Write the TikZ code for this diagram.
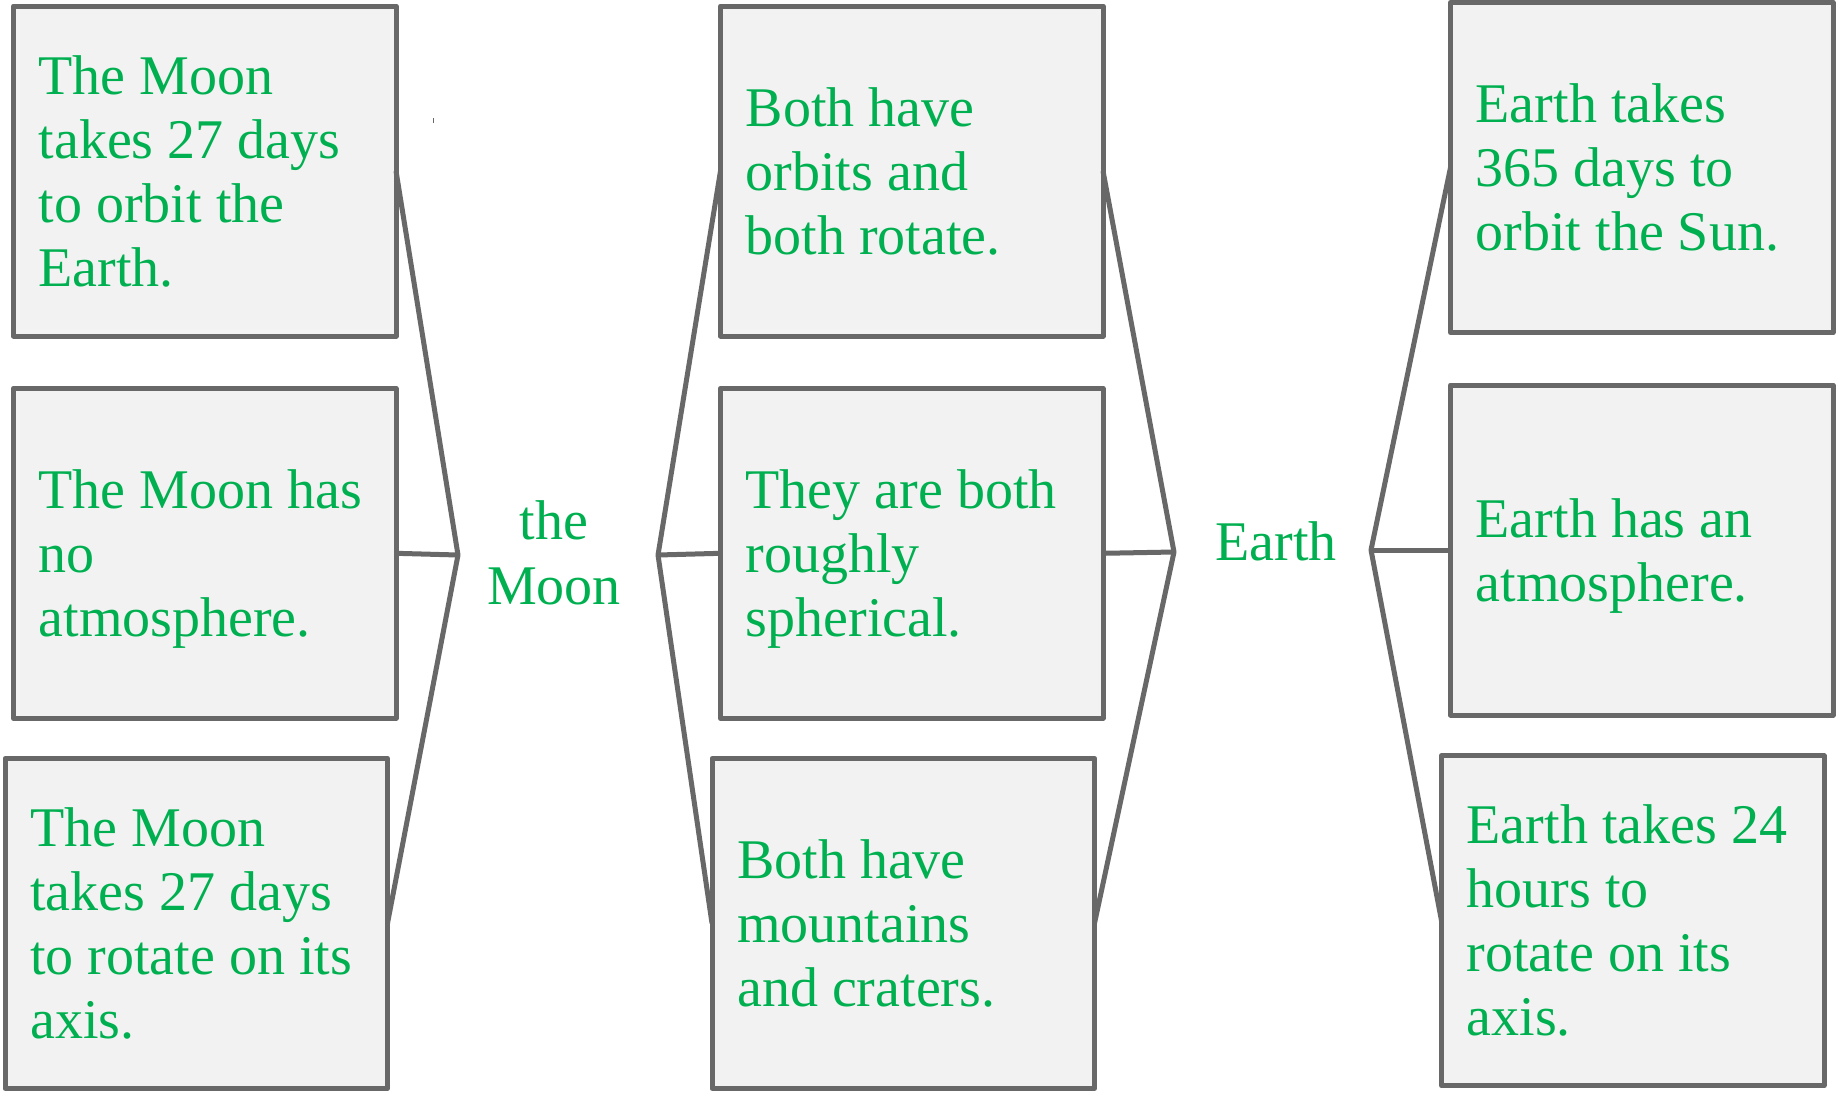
\documentclass[tikz,border=0pt]{standalone}
\usepackage{fontspec}
\setmainfont{Liberation Serif}
\definecolor{txtgreen}{HTML}{00B050}
\definecolor{boxfill}{HTML}{F2F2F2}
\definecolor{edgegray}{HTML}{686868}
\tikzset{
  factbox/.style={rectangle, draw=edgegray, fill=boxfill, line width=5pt,
    line join=round, minimum width=382.5pt, minimum height=330pt,
    inner sep=0pt, outer sep=0pt},
  boxtext/.style={anchor=west, inner sep=0pt, align=left, text=txtgreen,
    font=\fontsize{56}{64}\selectfont},
  topic/.style={text=txtgreen, font=\fontsize{56}{65}\selectfont,
    align=center, inner sep=0pt},
  link/.style={draw=edgegray, line width=5pt, line join=bevel},
}
\begin{document}
\begin{tikzpicture}[x=1pt,y=-1pt]
\useasboundingbox (0,0) rectangle (1843,1092);
\fill[white] (0,0) rectangle (1843,1092);

% boxes
\node[factbox] (m1) at (204.75,171)    {};
\node[factbox] (m2) at (204.75,553.3)  {};
\node[factbox] (m3) at (196.25,923.3)  {};
\node[factbox] (b1) at (911.75,171)    {};
\node[factbox] (b2) at (911.75,553.3)  {};
\node[factbox] (b3) at (903.25,923.3)  {};
\node[factbox] (e1) at (1641.75,167.5) {};
\node[factbox] (e2) at (1641.75,550)   {};
\node[factbox] (e3) at (1632.75,920.7) {};

% box texts
\node[boxtext] (m1t) at ([xshift=25pt]m1.west) {The Moon\\takes 27 days\\to orbit the\\Earth.};
\node[boxtext] (m2t) at ([xshift=25pt]m2.west) {The Moon has\\no\\\smash{atmosphere.}};
\node[boxtext] (m3t) at ([xshift=25pt]m3.west) {The Moon\\takes 27 days\\to rotate on its\\axis.};
\node[boxtext] (b1t) at ([xshift=25pt]b1.west) {Both have\\orbits and\\both rotate.};
\node[boxtext] (b2t) at ([xshift=25pt]b2.west) {They are both\\roughly\\\smash{spherical.}};
\node[boxtext] (b3t) at ([xshift=25pt]b3.west) {Both have\\mountains\\and craters.};
\node[boxtext] (e1t) at ([xshift=25pt]e1.west) {Earth takes\\365 days to\\orbit the Sun.};
\node[boxtext] (e2t) at ([xshift=25pt]e2.west) {Earth has an\\\smash{atmosphere.}};
\node[boxtext] (e3t) at ([xshift=25pt]e3.west) {Earth takes 24\\hours to\\rotate on its\\axis.};

% topic labels
\node[topic] (moon) at (554,553) {the\\Moon};
\node[topic, anchor=base] (earth) at (1276,560) {Earth};

% bracket vertices
\coordinate (v1) at (458,555);
\coordinate (v2) at (658,555);
\coordinate (v3) at (1174,552);
\coordinate (v4) at (1371,550);

% brackets
\draw[link] (m1.east) -- (v1) -- (m3.east);
\draw[link] (m2.east) -- (v1);
\draw[link] (b1.west) -- (v2) -- (b3.west);
\draw[link] (b2.west) -- (v2);
\draw[link] (b1.east) -- (v3) -- (b3.east);
\draw[link] (b2.east) -- (v3);
\draw[link] (e1.west) -- (v4) -- (e3.west);
\draw[link] (e2.west) -- (v4);

% small stray tick
\draw[edgegray, line width=1pt] (433,118) -- (433,123);
\end{tikzpicture}
\end{document}
